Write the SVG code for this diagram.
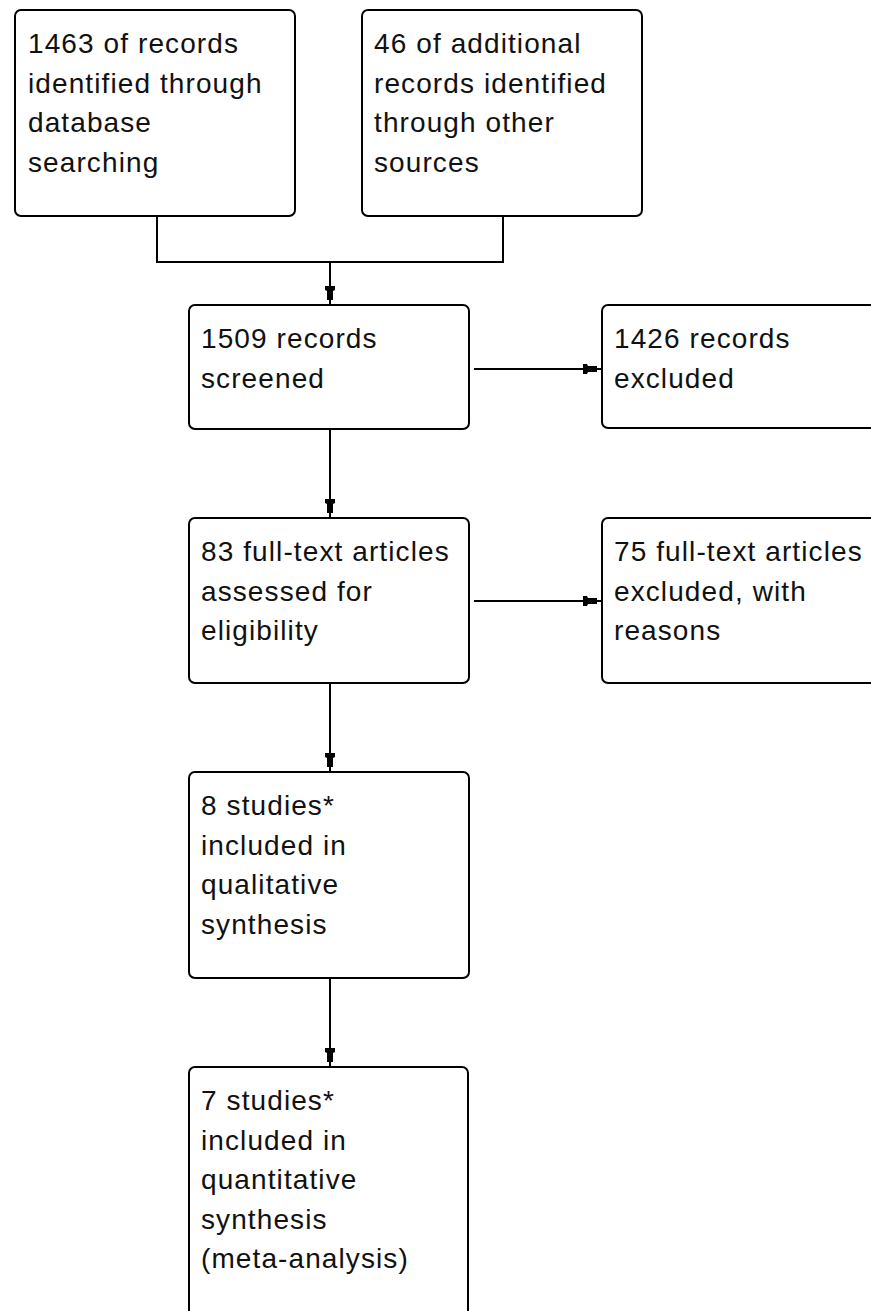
<svg xmlns="http://www.w3.org/2000/svg" width="871" height="1311" viewBox="0 0 871 1311">
<style>
.box{fill:#fff;stroke:#000;stroke-width:2}
.t{font-family:"Liberation Sans",Arial,sans-serif;font-size:28px;letter-spacing:1.1px;fill:#111}
.c{fill:none;stroke:#000;stroke-width:2}
</style>
<defs>
<marker id="ah" markerUnits="userSpaceOnUse" markerWidth="24" markerHeight="14" refX="19" refY="0" viewBox="0 -7 24 14" orient="auto" overflow="visible">
<path d="M0,-5 L4,-5 L5,-3 L14,-3 L14,3 L5,3 L4,5 L0,5 Z" fill="#000"/>
</marker>
</defs>
<rect width="871" height="1311" fill="#fff"/>
<g id="connectors">
<path class="c" d="M157,216 V262 H503 V216"/>
<path class="c" d="M330,262 V305" marker-end="url(#ah)"/>
<path class="c" d="M330,429 V518" marker-end="url(#ah)"/>
<path class="c" d="M474,369 H602" marker-end="url(#ah)"/>
<path class="c" d="M474,601 H602" marker-end="url(#ah)"/>
<path class="c" d="M330,683 V772" marker-end="url(#ah)"/>
<path class="c" d="M330,978 V1067" marker-end="url(#ah)"/>
</g>
<g id="n1">
<rect class="box" x="15" y="10" width="280" height="206" rx="6"/>
<text class="t" x="28" y="53">1463 of records</text>
<text class="t" x="28" y="92.5">identified through</text>
<text class="t" x="28" y="132">database</text>
<text class="t" x="28" y="171.5">searching</text>
</g>
<g id="n2">
<rect class="box" x="362" y="10" width="280" height="206" rx="6"/>
<text class="t" x="374" y="53">46 of additional</text>
<text class="t" x="374" y="92.5">records identified</text>
<text class="t" x="374" y="132">through other</text>
<text class="t" x="374" y="171.5">sources</text>
</g>
<g id="n3">
<rect class="box" x="189" y="305" width="280" height="124" rx="6"/>
<text class="t" x="201" y="348">1509 records</text>
<text class="t" x="201" y="387.5">screened</text>
</g>
<g id="n4">
<rect class="box" x="602" y="305" width="290" height="123" rx="6"/>
<text class="t" x="614" y="348">1426 records</text>
<text class="t" x="614" y="387.5">excluded</text>
</g>
<g id="n5">
<rect class="box" x="189" y="518" width="280" height="165" rx="6"/>
<text class="t" x="201" y="561">83 full-text articles</text>
<text class="t" x="201" y="600.5">assessed for</text>
<text class="t" x="201" y="640">eligibility</text>
</g>
<g id="n6">
<rect class="box" x="602" y="518" width="290" height="165" rx="6"/>
<text class="t" x="614" y="561">75 full-text articles</text>
<text class="t" x="614" y="600.5">excluded, with</text>
<text class="t" x="614" y="640">reasons</text>
</g>
<g id="n7">
<rect class="box" x="189" y="772" width="280" height="206" rx="6"/>
<text class="t" x="201" y="815">8 studies*</text>
<text class="t" x="201" y="854.5">included in</text>
<text class="t" x="201" y="894">qualitative</text>
<text class="t" x="201" y="933.5">synthesis</text>
</g>
<g id="n8">
<rect class="box" x="189" y="1067" width="279" height="260" rx="6"/>
<text class="t" x="201" y="1110">7 studies*</text>
<text class="t" x="201" y="1149.5">included in</text>
<text class="t" x="201" y="1189">quantitative</text>
<text class="t" x="201" y="1228.5">synthesis</text>
<text class="t" x="201" y="1268">(meta-analysis)</text>
</g>
</svg>
